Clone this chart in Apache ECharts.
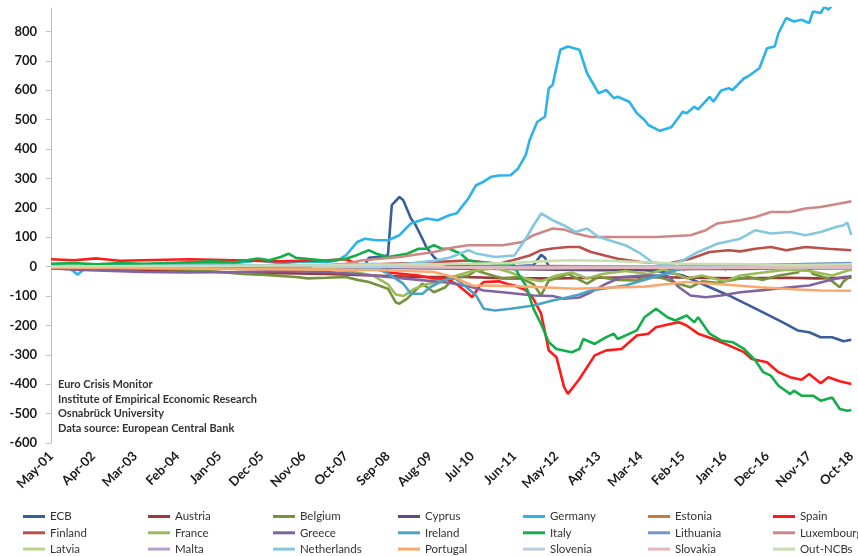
<!DOCTYPE html>
<html><head><meta charset="utf-8">
<script src="https://cdn.jsdelivr.net/npm/echarts@6/dist/echarts.min.js"></script>
<style>html,body{margin:0;padding:0;background:#fff}#c{width:858px;height:556px}</style>
</head><body><div id="c"></div>
<script>
// x = month index from May-01 (0) to Oct-18 (209)
const tickLabels = ['May-01','Apr-02','Mar-03','Feb-04','Jan-05','Dec-05','Nov-06','Oct-07','Sep-08','Aug-09','Jul-10','Jun-11','May-12','Apr-13','Mar-14','Feb-15','Jan-16','Dec-16','Nov-17','Oct-18'];
const seriesNames = ['ECB','Austria','Belgium','Cyprus','Germany','Estonia','Spain','Finland','France','Greece','Ireland','Italy','Lithuania','Luxembourg','Latvia','Malta','Netherlands','Portugal','Slovenia','Slovakia','Out-NCBs'];

const ECB = [[0,0],[24,0],[48,0],[72,0],[80,3],[82,5],[83,30],[87,35],[88,40],[89,209],[91,237],[92,226],[94,164],[95,147],[97,95],[98,67],[100,33],[102,10],[105,3],[110,0],[120,0],[126,5],[128,40],[129,30],[130,0],[140,-2],[150,-8],[158,-15],[162,-22],[165,-30],[171,-64],[177,-98],[184,-143],[191,-189],[195,-217],[198,-223],[201,-240],[204,-240],[207,-254],[209,-249]];
const Austria = [[0,-5],[12,-8],[24,-10],[36,-15],[48,-20],[60,-22],[72,-25],[84,-30],[96,-35],[108,-35],[120,-40],[132,-40],[144,-38],[156,-35],[168,-38],[180,-40],[192,-38],[200,-40],[209,-38]];
const Belgium = [[0,0],[12,-3],[24,-5],[36,-10],[44,-18],[50,-25],[56,-28],[64,-35],[67,-40],[72,-38],[77,-35],[80,-45],[83,-52],[88,-75],[90,-121],[91,-126],[93,-109],[96,-70],[97,-58],[100,-87],[103,-70],[105,-41],[109,-30],[111,-13],[114,-25],[118,-40],[122,-35],[126,-60],[128,-98],[130,-47],[133,-35],[135,-24],[138,-45],[140,-58],[143,-35],[148,-45],[153,-47],[156,-30],[160,-40],[163,-55],[167,-70],[170,-50],[174,-55],[178,-45],[182,-35],[186,-45],[190,-30],[195,-20],[197,10],[199,-25],[203,-40],[206,-70],[207,-50],[209,-30]];
const Cyprus = [[0,-2],[84,-3],[96,-5],[120,-8],[132,-10],[144,-12],[156,-10],[168,-8],[180,-8],[192,-6],[209,-5]];
const Germany = [[0,5],[4,2],[7,-27],[9,-5],[14,8],[24,5],[36,10],[48,12],[54,21],[60,12],[66,18],[72,15],[75,22],[77,38],[80,84],[82,95],[85,90],[88,90],[91,107],[94,147],[98,164],[101,158],[104,175],[106,182],[109,232],[111,277],[113,289],[115,306],[117,310],[120,311],[122,334],[124,380],[125,431],[127,493],[129,510],[130,607],[131,618],[133,738],[135,749],[138,738],[140,658],[143,590],[145,601],[147,573],[148,578],[151,561],[153,522],[155,499],[156,482],[159,462],[162,474],[165,527],[166,522],[168,544],[169,535],[172,578],[173,561],[175,599],[177,607],[178,601],[181,641],[182,647],[185,675],[187,743],[189,749],[190,795],[192,846],[194,834],[196,840],[198,829],[199,868],[201,863],[202,885],[203,874],[205,905],[209,930]];
const Estonia = [[116,0],[130,2],[150,0],[170,-2],[190,0],[209,2]];
const Spain = [[0,25],[6,22],[12,28],[18,20],[24,22],[36,25],[48,22],[60,18],[66,20],[72,22],[77,25],[80,10],[84,-5],[88,-20],[92,-25],[96,-30],[100,-40],[103,-41],[106,-60],[109,-92],[110,-104],[112,-64],[113,-52],[117,-50],[119,-58],[121,-64],[124,-80],[126,-110],[128,-160],[130,-285],[132,-308],[134,-410],[135,-433],[137,-399],[138,-382],[142,-302],[145,-285],[149,-280],[153,-234],[156,-228],[158,-206],[162,-194],[164,-189],[166,-200],[169,-228],[173,-246],[177,-268],[181,-291],[183,-314],[187,-325],[188,-337],[190,-359],[193,-376],[196,-385],[198,-365],[201,-397],[203,-376],[206,-390],[209,-399]];
const Finland = [[0,0],[24,0],[48,2],[72,5],[84,8],[96,12],[104,18],[109,21],[113,15],[117,10],[122,27],[125,38],[128,56],[131,62],[135,67],[138,67],[141,50],[148,27],[154,16],[161,10],[167,27],[172,50],[177,56],[180,52],[184,61],[188,67],[192,56],[197,67],[203,61],[209,56]];
const France = [[0,0],[24,0],[48,-2],[72,-5],[80,-20],[84,-30],[88,-60],[90,-95],[92,-100],[95,-75],[98,-60],[102,-50],[106,-30],[110,-15],[116,-5],[120,-20],[124,-40],[128,-50],[132,-30],[136,-20],[140,-40],[144,-25],[150,-15],[156,-25],[160,-10],[166,-40],[170,-30],[176,-50],[180,-30],[186,-20],[192,-10],[198,-15],[204,-30],[209,-10]];
const Greece = [[0,-5],[6,-10],[12,-13],[24,-18],[36,-20],[48,-18],[60,-15],[72,-18],[80,-25],[88,-35],[96,-45],[104,-55],[110,-70],[113,-81],[118,-87],[126,-98],[131,-100],[134,-109],[138,-105],[141,-87],[145,-58],[149,-35],[155,-30],[161,-30],[164,-70],[167,-98],[171,-104],[175,-98],[180,-87],[186,-80],[193,-70],[198,-64],[203,-47],[207,-35],[209,-33]];
const Ireland = [[0,0],[24,2],[48,5],[72,5],[80,0],[86,-10],[88,-24],[92,-58],[94,-92],[97,-92],[99,-70],[102,-50],[105,-35],[108,-64],[111,-98],[113,-143],[116,-149],[120,-143],[126,-132],[131,-115],[135,-104],[138,-95],[141,-81],[150,-64],[156,-41],[163,-13],[167,0],[175,3],[185,5],[195,8],[209,10]];
const Italy = [[0,10],[6,12],[12,8],[18,12],[24,10],[30,12],[36,15],[42,18],[48,15],[54,28],[57,22],[60,33],[62,44],[64,30],[68,25],[72,20],[77,27],[80,40],[83,56],[85,44],[88,33],[93,44],[96,61],[98,61],[100,73],[102,61],[104,61],[107,44],[109,21],[112,15],[117,10],[120,10],[121,5],[122,-24],[124,-64],[126,-143],[128,-195],[130,-257],[132,-280],[136,-291],[138,-280],[139,-246],[142,-263],[145,-240],[147,-228],[148,-246],[153,-217],[155,-172],[158,-143],[161,-172],[163,-183],[166,-166],[168,-189],[169,-172],[172,-228],[175,-251],[178,-257],[181,-280],[184,-320],[186,-359],[188,-371],[190,-405],[193,-433],[194,-422],[196,-439],[199,-439],[201,-456],[204,-445],[206,-484],[208,-490],[209,-488]];
const Lithuania = [[164,0],[180,5],[195,8],[209,12]];
const Luxembourg = [[0,0],[24,-2],[48,0],[72,5],[77,10],[81,21],[91,33],[100,50],[105,65],[109,73],[118,73],[123,84],[126,107],[131,130],[134,126],[137,113],[141,101],[150,101],[158,101],[167,107],[171,124],[174,147],[180,158],[184,169],[188,186],[193,186],[197,198],[201,203],[206,215],[209,222]];
const Latvia = [[152,0],[170,-3],[190,-5],[209,-3]];
const Malta = [[80,0],[120,-2],[160,0],[209,1]];
const Netherlands = [[0,0],[24,2],[48,5],[72,5],[84,10],[90,5],[96,15],[100,20],[104,30],[107,45],[109,56],[111,45],[116,33],[121,38],[124,95],[126,140],[128,181],[131,158],[134,140],[137,118],[140,130],[143,101],[150,73],[154,44],[157,16],[161,4],[165,21],[169,50],[174,78],[180,95],[184,124],[188,113],[193,118],[197,107],[201,118],[205,135],[207,141],[208,150],[209,107]];
const Portugal = [[0,-3],[24,-5],[48,-8],[72,-10],[88,-12],[100,-18],[105,-35],[110,-64],[120,-66],[128,-70],[137,-75],[145,-72],[155,-68],[166,-52],[175,-60],[185,-70],[195,-78],[201,-81],[209,-82]];
const Slovenia = [[68,0],[100,-2],[130,-5],[160,-3],[190,-2],[209,-3]];
const Slovakia = [[92,0],[120,-5],[140,-3],[170,-5],[190,-3],[209,-2]];
const OutNCBs = [[0,0],[24,2],[48,3],[72,5],[96,8],[110,10],[120,12],[128,18],[135,22],[145,20],[155,15],[165,10],[180,8],[195,5],[209,8]];

const seriesData = [ECB,Austria,Belgium,Cyprus,Germany,Estonia,Spain,Finland,France,Greece,Ireland,Italy,Lithuania,Luxembourg,Latvia,Malta,Netherlands,Portugal,Slovenia,Slovakia,OutNCBs];
const colors = ['#3A5E9C','#9B3A38','#76923C','#604A7B','#2CB3EC','#C47A3C','#FF1A1A','#B8504C','#9BBB59','#8064A2','#4BA3C3','#13AE4B','#7396CC','#CD8886','#B9D38F','#B3A2CF','#85C7DE','#F9A86F','#B8CCE4','#E6B9B8','#C9DDB0'];

const annotation = ['Euro Crisis Monitor','Institute of Empirical Economic Research','Osnabrück University','Data source: European Central Bank'];

const FONT = 'Lato, "Open Sans", sans-serif';
const chart = echarts.init(document.getElementById('c'), null, {renderer:'canvas'});
// legend laid out in 7 columns, 3 rows (row-major order of the series)
const legendCols = [];
for (let c = 0; c < 7; c++) legendCols.push([seriesNames[c], seriesNames[c+7], seriesNames[c+14]]);

chart.setOption({
  animation: false,
  color: colors,
  grid: {left: 51, right: 2, top: 8, bottom: 113, containLabel: false},
  xAxis: {
    type: 'value', min: 0, max: 209, interval: 11,
    axisLine: {show: true, lineStyle: {color: '#BFBFBF', width: 1}},
    axisTick: {show: true, length: 5, lineStyle: {color: '#BFBFBF'}},
    splitLine: {show: false},
    axisLabel: {rotate: 45, margin: 11, fontFamily: FONT, fontWeight: 'bold', fontSize: 13, color: '#1a1a1a',
      formatter: v => tickLabels[Math.round(v/11)] || ''}
  },
  yAxis: {
    type: 'value', min: -600, max: 880, interval: 100,
    axisLine: {show: true, lineStyle: {color: '#BFBFBF', width: 1}},
    axisTick: {show: true, length: 5, lineStyle: {color: '#BFBFBF'}},
    splitLine: {show: false},
    axisLabel: {showMaxLabel: false, margin: 14, fontFamily: FONT, fontWeight: 'bold', fontSize: 13, color: '#1a1a1a'}
  },
  legend: legendCols.map((col, c) => ({
    data: col, left: 23 + 125 * c, top: 509.5, width: 130, height: 80, orient: 'vertical',
    icon: 'rect', itemWidth: 22, itemHeight: 3, itemGap: 2.3,
    textStyle: {fontFamily: FONT, fontSize: 11.5, color: '#333', lineHeight: 14},
    padding: 0
  })),
  graphic: [{
    type: 'text', left: 58, top: 377,
    style: {text: annotation.join('\n'), font: 'bold 11px ' + FONT, fill: '#333', lineHeight: 14.7}
  }],
  series: seriesNames.map((n, i) => ({
    name: n, type: 'line', data: seriesData[i], showSymbol: false, symbol: 'none',
    lineStyle: {width: 2.6, color: colors[i]}, itemStyle: {color: colors[i]},
    emphasis: {disabled: true}, z: 2 + i / 100
  }))
});
</script></body></html>
